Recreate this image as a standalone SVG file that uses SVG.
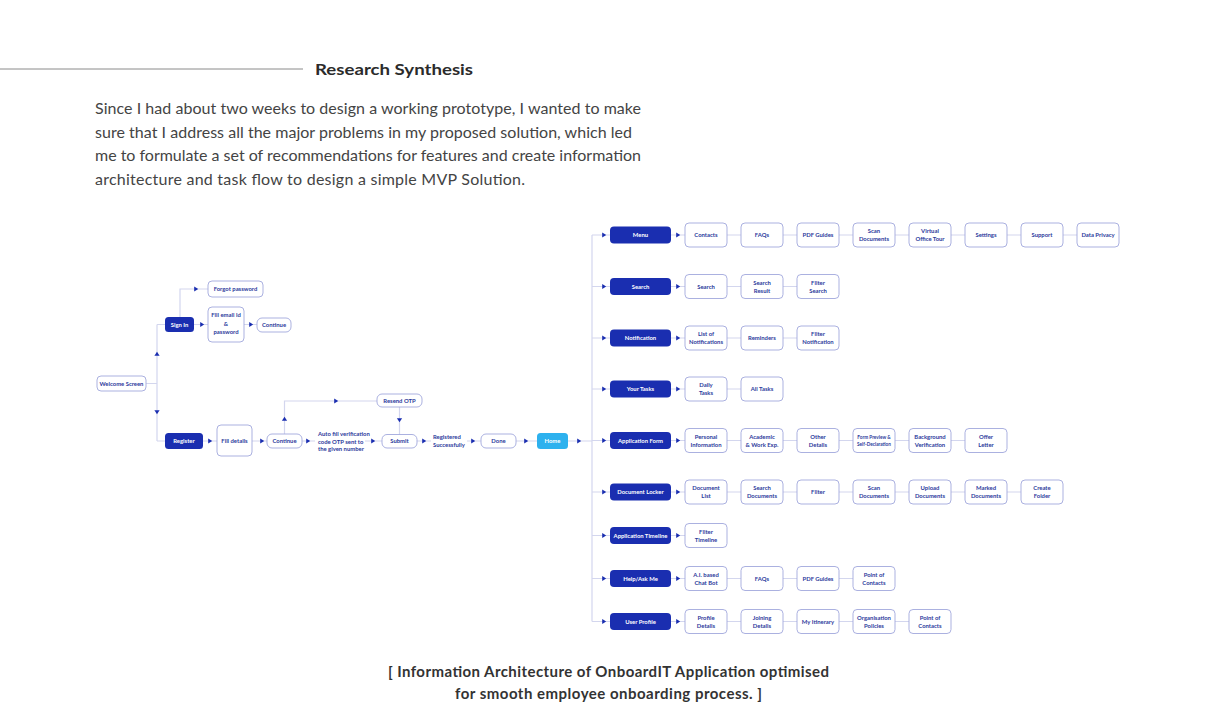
<svg xmlns="http://www.w3.org/2000/svg" xmlns:xlink="http://www.w3.org/1999/xlink" width="1216" height="723" viewBox="0 0 1216 723">
<style>
.ln{stroke:#d3d6ee;stroke-width:1.2;fill:none}
.bx{fill:#fff;stroke:#a2a8dc;stroke-width:0.9}
.dk{fill:#1a2eb0}
.hm{fill:#2db1ee}
.t{font-family:Lato,"Noto Sans",sans-serif;font-size:5.9px;font-weight:700;fill:#2c3a9c;text-anchor:middle}
.tl{font-family:Lato,"Noto Sans",sans-serif;font-size:5.9px;font-weight:700;fill:#2c3a9c}
.tw{fill:#fff}
.ts{font-size:4.7px}
.head{font-family:Lato,"Noto Sans",sans-serif;font-size:16px;font-weight:700;fill:#2b2b2b}
.para{font-family:Lato,"Noto Sans",sans-serif;font-size:16px;fill:#444}
.cap{font-family:Lato,"Noto Sans",sans-serif;font-size:15px;font-weight:700;fill:#333;text-anchor:middle}
</style>
<defs>
<path id="ar" d="M-1.8,-2.6 L2.2,0 L-1.8,2.6Z" fill="#1a2eb0"/>
</defs>
<rect width="1216" height="723" fill="#fff"/>
<g id="header">
<line x1="0" y1="69" x2="303" y2="69" stroke="#8a8a8a" stroke-width="1"/>
<text class="head" x="315" y="75" textLength="158" lengthAdjust="spacingAndGlyphs">Research Synthesis</text>
<text class="para" x="95" y="114" textLength="546" lengthAdjust="spacing">Since I had about two weeks to design a working prototype, I wanted to make</text>
<text class="para" x="95" y="137.5" textLength="537" lengthAdjust="spacing">sure that I address all the major problems in my proposed solution, which led</text>
<text class="para" x="95" y="161" textLength="546" lengthAdjust="spacing">me to formulate a set of recommendations for features and create information</text>
<text class="para" x="95" y="184.5" textLength="430" lengthAdjust="spacing">architecture and task flow to design a simple MVP Solution.</text>
</g>
<g id="connectors">
<path class="ln" d="M146,383.5H157M157,324.5V441M157,324.5H165M157,441H165"/>
<path class="ln" d="M180,317V289H208M194,324.5H208M244,324.5H257"/>
<path class="ln" d="M203,441H217M252,441H267M302,441H315M365,441H382M417,441H431M467,441H481M516,441H537M568,441H592"/>
<path class="ln" d="M284.5,434V401H377M399.5,407V435"/>
<path class="ln" d="M592,235V621.5"/>
<path class="ln" d="M592,235H610M671,235H1077"/>
<path class="ln" d="M592,286.5H610M671,286.5H797"/>
<path class="ln" d="M592,338H610M671,338H797"/>
<path class="ln" d="M592,389H610M671,389H741"/>
<path class="ln" d="M592,440.5H610M671,440.5H965"/>
<path class="ln" d="M592,492H610M671,492H1021"/>
<path class="ln" d="M592,535.5H610M671,535.5H685"/>
<path class="ln" d="M592,578.5H610M671,578.5H853"/>
<path class="ln" d="M592,621.5H610M671,621.5H909"/>
<use href="#ar" transform="translate(157,354) rotate(-90)"/>
<use href="#ar" transform="translate(157,412) rotate(90)"/>
<use href="#ar" x="196" y="289"/>
<use href="#ar" x="202" y="324.5"/>
<use href="#ar" x="251" y="324.5"/>
<use href="#ar" x="210" y="441"/>
<use href="#ar" x="262" y="441"/>
<use href="#ar" x="308" y="441"/>
<use href="#ar" x="373" y="441"/>
<use href="#ar" x="424" y="441"/>
<use href="#ar" x="473" y="441"/>
<use href="#ar" x="526" y="441"/>
<use href="#ar" x="579" y="441"/>
<use href="#ar" transform="translate(284.5,419) rotate(-90)"/>
<use href="#ar" x="336" y="401"/>
<use href="#ar" transform="translate(399.5,420) rotate(90)"/>
<use href="#ar" x="604" y="235"/><use href="#ar" x="678" y="235"/>
<use href="#ar" x="604" y="286.5"/><use href="#ar" x="678" y="286.5"/>
<use href="#ar" x="604" y="338"/><use href="#ar" x="678" y="338"/>
<use href="#ar" x="604" y="389"/><use href="#ar" x="678" y="389"/>
<use href="#ar" x="604" y="440.5"/><use href="#ar" x="678" y="440.5"/>
<use href="#ar" x="604" y="492"/><use href="#ar" x="678" y="492"/>
<use href="#ar" x="604" y="535.5"/><use href="#ar" x="678" y="535.5"/>
<use href="#ar" x="604" y="578.5"/><use href="#ar" x="678" y="578.5"/>
<use href="#ar" x="604" y="621.5"/><use href="#ar" x="678" y="621.5"/>
</g>
<g id="welcome"><rect class="bx" x="97" y="376" width="49" height="15" rx="4"/><text class="t" x="121.5" y="385.5">Welcome Screen</text></g>
<g id="signin"><rect class="dk" x="165" y="317" width="29" height="15" rx="3.5"/><text class="t tw" x="179.5" y="326.5">Sign In</text></g>
<g id="forgot"><rect class="bx" x="208" y="281" width="55" height="16" rx="4"/><text class="t" x="235.5" y="291">Forgot password</text></g>
<g id="fillemail"><rect class="bx" x="208" y="307" width="36" height="35" rx="4"/><text class="t" x="226" y="317">Fill email id</text><text class="t" x="226" y="325.5">&amp;</text><text class="t" x="226" y="334">password</text></g>
<g id="continue1"><rect class="bx" x="257" y="318" width="34" height="14" rx="5"/><text class="t" x="274" y="327">Continue</text></g>
<g id="register"><rect class="dk" x="165" y="433" width="38" height="16" rx="3.5"/><text class="t tw" x="184" y="443">Register</text></g>
<g id="filldetails"><rect class="bx" x="217" y="425" width="35" height="31" rx="4"/><text class="t" x="234.5" y="443">Fill details</text></g>
<g id="continue2"><rect class="bx" x="267" y="434" width="35" height="14" rx="5"/><text class="t" x="284.5" y="443">Continue</text></g>
<g id="autofill"><text class="tl" x="318" y="436">Auto fill verification</text><text class="tl" x="318" y="443.5">code OTP sent to</text><text class="tl" x="318" y="451">the given number</text></g>
<g id="resend"><rect class="bx" x="377" y="394" width="45" height="13" rx="5"/><text class="t" x="399.5" y="402.5">Resend OTP</text></g>
<g id="submit"><rect class="bx" x="382" y="434.5" width="35" height="13.5" rx="5"/><text class="t" x="399.5" y="443">Submit</text></g>
<g id="registered"><text class="tl" x="433" y="439">Registered</text><text class="tl" x="433" y="447">Successfully</text></g>
<g id="done"><rect class="bx" x="481" y="434" width="35" height="14" rx="5"/><text class="t" x="498.5" y="443">Done</text></g>
<g id="home"><rect class="hm" x="537" y="433" width="31" height="16" rx="3.5"/><text class="t tw" x="552.5" y="443">Home</text></g>

<g id="menu">
<rect class="dk" x="610" y="226.5" width="61" height="17" rx="4"/><text class="t tw" x="640.5" y="237">Menu</text>
<rect class="bx" x="685" y="223" width="42" height="24" rx="4"/><text class="t" x="706" y="237">Contacts</text>
<rect class="bx" x="741" y="223" width="42" height="24" rx="4"/><text class="t" x="762" y="237">FAQs</text>
<rect class="bx" x="797" y="223" width="42" height="24" rx="4"/><text class="t" x="818" y="237">PDF Guides</text>
<rect class="bx" x="853" y="223" width="42" height="24" rx="4"/><text class="t" x="874" y="233">Scan</text><text class="t" x="874" y="241">Documents</text>
<rect class="bx" x="909" y="223" width="42" height="24" rx="4"/><text class="t" x="930" y="233">Virtual</text><text class="t" x="930" y="241">Office Tour</text>
<rect class="bx" x="965" y="223" width="42" height="24" rx="4"/><text class="t" x="986" y="237">Settings</text>
<rect class="bx" x="1021" y="223" width="42" height="24" rx="4"/><text class="t" x="1042" y="237">Support</text>
<rect class="bx" x="1077" y="223" width="42" height="24" rx="4"/><text class="t" x="1098" y="237">Data Privacy</text>
</g>
<g id="search">
<rect class="dk" x="610" y="278" width="61" height="17" rx="4"/><text class="t tw" x="640.5" y="288.5">Search</text>
<rect class="bx" x="685" y="274.5" width="42" height="24" rx="4"/><text class="t" x="706" y="288.5">Search</text>
<rect class="bx" x="741" y="274.5" width="42" height="24" rx="4"/><text class="t" x="762" y="284.5">Search</text><text class="t" x="762" y="292.5">Result</text>
<rect class="bx" x="797" y="274.5" width="42" height="24" rx="4"/><text class="t" x="818" y="284.5">Filter</text><text class="t" x="818" y="292.5">Search</text>
</g>
<g id="notification">
<rect class="dk" x="610" y="329.5" width="61" height="17" rx="4"/><text class="t tw" x="640.5" y="340">Notification</text>
<rect class="bx" x="685" y="326" width="42" height="24" rx="4"/><text class="t" x="706" y="336">List of</text><text class="t" x="706" y="344">Notifications</text>
<rect class="bx" x="741" y="326" width="42" height="24" rx="4"/><text class="t" x="762" y="340">Reminders</text>
<rect class="bx" x="797" y="326" width="42" height="24" rx="4"/><text class="t" x="818" y="336">Filter</text><text class="t" x="818" y="344">Notification</text>
</g>
<g id="yourtasks">
<rect class="dk" x="610" y="380.5" width="61" height="17" rx="4"/><text class="t tw" x="640.5" y="391">Your Tasks</text>
<rect class="bx" x="685" y="377" width="42" height="24" rx="4"/><text class="t" x="706" y="387">Daily</text><text class="t" x="706" y="395">Tasks</text>
<rect class="bx" x="741" y="377" width="42" height="24" rx="4"/><text class="t" x="762" y="391">All Tasks</text>
</g>
<g id="appform">
<rect class="dk" x="610" y="432" width="61" height="17" rx="4"/><text class="t tw" x="640.5" y="442.5">Application Form</text>
<rect class="bx" x="685" y="428.5" width="42" height="24" rx="4"/><text class="t" x="706" y="438.5">Personal</text><text class="t" x="706" y="446.5">Information</text>
<rect class="bx" x="741" y="428.5" width="42" height="24" rx="4"/><text class="t" x="762" y="438.5">Academic</text><text class="t" x="762" y="446.5">&amp; Work Exp.</text>
<rect class="bx" x="797" y="428.5" width="42" height="24" rx="4"/><text class="t" x="818" y="438.5">Other</text><text class="t" x="818" y="446.5">Details</text>
<rect class="bx" x="853" y="428.5" width="42" height="24" rx="4"/><text class="t ts" x="874" y="438.5">Form Preview &amp;</text><text class="t ts" x="874" y="446">Self-Declaration</text>
<rect class="bx" x="909" y="428.5" width="42" height="24" rx="4"/><text class="t" x="930" y="438.5">Background</text><text class="t" x="930" y="446.5">Verification</text>
<rect class="bx" x="965" y="428.5" width="42" height="24" rx="4"/><text class="t" x="986" y="438.5">Offer</text><text class="t" x="986" y="446.5">Letter</text>
</g>
<g id="doclocker">
<rect class="dk" x="610" y="483.5" width="61" height="17" rx="4"/><text class="t tw" x="640.5" y="494">Document Locker</text>
<rect class="bx" x="685" y="480" width="42" height="24" rx="4"/><text class="t" x="706" y="490">Document</text><text class="t" x="706" y="498">List</text>
<rect class="bx" x="741" y="480" width="42" height="24" rx="4"/><text class="t" x="762" y="490">Search</text><text class="t" x="762" y="498">Documents</text>
<rect class="bx" x="797" y="480" width="42" height="24" rx="4"/><text class="t" x="818" y="494">Filter</text>
<rect class="bx" x="853" y="480" width="42" height="24" rx="4"/><text class="t" x="874" y="490">Scan</text><text class="t" x="874" y="498">Documents</text>
<rect class="bx" x="909" y="480" width="42" height="24" rx="4"/><text class="t" x="930" y="490">Upload</text><text class="t" x="930" y="498">Documents</text>
<rect class="bx" x="965" y="480" width="42" height="24" rx="4"/><text class="t" x="986" y="490">Marked</text><text class="t" x="986" y="498">Documents</text>
<rect class="bx" x="1021" y="480" width="42" height="24" rx="4"/><text class="t" x="1042" y="490">Create</text><text class="t" x="1042" y="498">Folder</text>
</g>
<g id="apptimeline">
<rect class="dk" x="610" y="527" width="61" height="17" rx="4"/><text class="t tw" x="640.5" y="537.5">Application Timeline</text>
<rect class="bx" x="685" y="523.5" width="42" height="24" rx="4"/><text class="t" x="706" y="533.5">Filter</text><text class="t" x="706" y="541.5">Timeline</text>
</g>
<g id="help">
<rect class="dk" x="610" y="570" width="61" height="17" rx="4"/><text class="t tw" x="640.5" y="580.5">Help/Ask Me</text>
<rect class="bx" x="685" y="566.5" width="42" height="24" rx="4"/><text class="t" x="706" y="576.5">A.I. based</text><text class="t" x="706" y="584.5">Chat Bot</text>
<rect class="bx" x="741" y="566.5" width="42" height="24" rx="4"/><text class="t" x="762" y="580.5">FAQs</text>
<rect class="bx" x="797" y="566.5" width="42" height="24" rx="4"/><text class="t" x="818" y="580.5">PDF Guides</text>
<rect class="bx" x="853" y="566.5" width="42" height="24" rx="4"/><text class="t" x="874" y="576.5">Point of</text><text class="t" x="874" y="584.5">Contacts</text>
</g>
<g id="userprofile">
<rect class="dk" x="610" y="613" width="61" height="17" rx="4"/><text class="t tw" x="640.5" y="623.5">User Profile</text>
<rect class="bx" x="685" y="609.5" width="42" height="24" rx="4"/><text class="t" x="706" y="619.5">Profile</text><text class="t" x="706" y="627.5">Details</text>
<rect class="bx" x="741" y="609.5" width="42" height="24" rx="4"/><text class="t" x="762" y="619.5">Joining</text><text class="t" x="762" y="627.5">Details</text>
<rect class="bx" x="797" y="609.5" width="42" height="24" rx="4"/><text class="t" x="818" y="623.5">My Itinerary</text>
<rect class="bx" x="853" y="609.5" width="42" height="24" rx="4"/><text class="t" x="874" y="619.5">Organisation</text><text class="t" x="874" y="627.5">Policies</text>
<rect class="bx" x="909" y="609.5" width="42" height="24" rx="4"/><text class="t" x="930" y="619.5">Point of</text><text class="t" x="930" y="627.5">Contacts</text>
</g>
<g id="caption">
<text class="cap" x="608.5" y="677" textLength="441" lengthAdjust="spacing">[ Information Architecture of OnboardIT Application optimised</text>
<text class="cap" x="608.5" y="699" textLength="307" lengthAdjust="spacing">for smooth employee onboarding process. ]</text>
</g>
</svg>
